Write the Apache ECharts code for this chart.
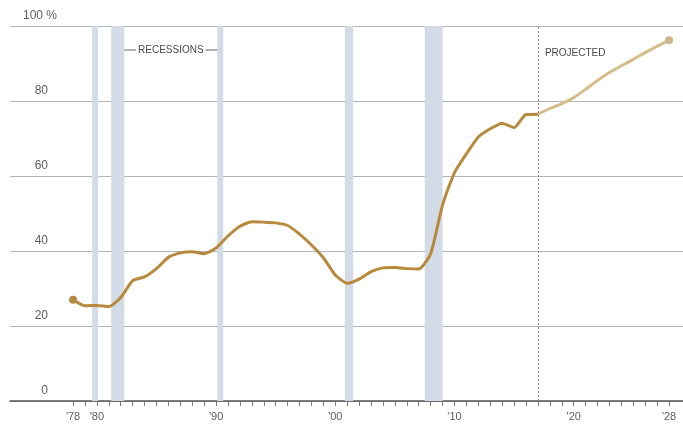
<!DOCTYPE html>
<html>
<head>
<meta charset="utf-8">
<script src="https://cdn.jsdelivr.net/npm/echarts@6/dist/echarts.min.js"></script>
<style>
  html, body { margin: 0; padding: 0; background: #fff; }
  #chart { width: 683px; height: 430px; }
</style>
</head>
<body>
<div id="chart"></div>
<script>
// Federal debt held by the public, percent of GDP (fiscal years)
const actualYears = [1978,1979,1980,1981,1982,1983,1984,1985,1986,1987,1988,1989,1990,1991,1992,1993,1994,1995,1996,1997,1998,1999,2000,2001,2002,2003,2004,2005,2006,2007,2008,2009,2010,2011,2012,2013,2014,2015,2016,2017];
const actualValues = [27.0,25.4,25.5,25.2,27.6,32.1,33.1,35.3,38.3,39.5,39.8,39.3,40.8,44.0,46.6,47.8,47.7,47.5,46.8,44.5,41.6,38.2,33.6,31.4,32.5,34.5,35.5,35.6,35.3,35.2,39.3,52.3,60.9,65.9,70.4,72.6,74.1,72.9,76.4,76.5];
const projectedYears = [2017,2018,2019,2020,2021,2022,2023,2024,2025,2026,2027,2028];
const projectedValues = [76.5,78.0,79.3,80.9,83.1,85.5,87.6,89.4,91.1,92.9,94.6,96.2];

// Recession periods, in the same year units as the data
const recessions = [[1979.6,1980.1],[1981.2,1982.3],[1990.1,1990.6],[2000.8,2001.5],[2007.5,2009.0]];
const projectionStart = 2017;

const xLabelYears = [1978,1980,1990,2000,2010,2020,2028];
const tickYears = [];
for (let y = 1978; y <= 2028; y++) tickYears.push(y);

const font = "'Liberation Sans', Arial, sans-serif";
const chart = echarts.init(document.getElementById('chart'), null, { renderer: 'canvas' });

const option = {
  animation: false,
  grid: { left: 10, right: 0, top: 26, bottom: 29 },
  xAxis: {
    type: 'value',
    min: 1972.71,
    max: 2029.17,
    splitLine: { show: false },
    axisLine: { show: true, lineStyle: { color: '#555', width: 1.5 } },
    axisTick: { show: true, customValues: tickYears, length: 5, lineStyle: { color: '#777', width: 1 } },
    axisLabel: {
      customValues: xLabelYears,
      formatter: v => "'" + String(v).slice(2),
      color: '#5e5e5e', fontSize: 11, fontFamily: font, margin: 10
    }
  },
  yAxis: {
    type: 'value',
    min: 0, max: 100, interval: 20,
    axisLine: { show: false },
    axisTick: { show: false },
    splitLine: { show: true, lineStyle: { color: '#aeb5bc', width: 1 } },
    axisLabel: {
      inside: true,
      margin: 38,
      align: 'right',
      verticalAlign: 'bottom',
      padding: [0, 0, 4, 0],
      color: '#5e5e5e', fontSize: 12, fontFamily: font,
      // the top label carries the unit and is drawn separately
      formatter: v => (v === 100 ? '' : String(v))
    }
  },
  series: [
    {
      name: 'recessions',
      type: 'line',
      data: [],
      silent: true,
      markArea: {
        silent: true,
        itemStyle: { color: '#d3dce6' },
        data: recessions.map(r => [{ xAxis: r[0], yAxis: 0 }, { xAxis: r[1], yAxis: 100 }])
      },
      markLine: {
        silent: true,
        symbol: 'none',
        label: { show: false },
        lineStyle: { color: '#8a8a8a', type: [2, 2], width: 1 },
        data: [[{ coord: [projectionStart, 0] }, { coord: [projectionStart, 100] }]]
      },
      z: 1
    },
    {
      name: 'projected',
      type: 'line',
      data: projectedYears.map((y, i) => [y, projectedValues[i]]),
      smooth: 0.2,
      showSymbol: true,
      symbol: 'circle',
      symbolSize: (v, p) => (p.dataIndex === projectedYears.length - 1 ? 8 : 0),
      itemStyle: { color: '#cbb88e' },
      lineStyle: { color: '#d6bc86', width: 3 },
      z: 3
    },
    {
      name: 'actual',
      type: 'line',
      data: actualYears.map((y, i) => [y, actualValues[i]]),
      smooth: 0.2,
      showSymbol: true,
      symbol: 'circle',
      symbolSize: (v, p) => (p.dataIndex === 0 ? 8 : 0),
      itemStyle: { color: '#b48a45' },
      lineStyle: { color: '#b8893c', width: 3 },
      z: 4
    }
  ]
};

chart.setOption(option);

// Annotations placed from axis coordinates
const px = (x, y) => chart.convertToPixel({ gridIndex: 0 }, [x, y]);
const recLeft = px(recessions[1][1], 100)[0];
const recRight = px(recessions[2][0], 100)[0];
const labelY = 50;
const projX = px(projectionStart, 100)[0];
const topY = px(1978, 100)[1];

chart.setOption({
  graphic: [
    {
      type: 'text',
      x: 23, y: topY - 4,
      style: { text: '100 %', fill: '#5e5e5e', font: '12px ' + font, verticalAlign: 'bottom' }
    },
    {
      type: 'line',
      shape: { x1: recLeft, y1: labelY, x2: recRight, y2: labelY },
      style: { stroke: '#666', lineWidth: 1 },
      z: 10
    },
    {
      type: 'text',
      x: (recLeft + recRight) / 2, y: labelY,
      style: {
        text: 'RECESSIONS', fill: '#4a4a4a', font: '10px ' + font,
        align: 'center', verticalAlign: 'middle',
        backgroundColor: '#fff', padding: [1, 2]
      },
      z: 11
    },
    {
      type: 'text',
      x: projX + 7, y: 53,
      style: { text: 'PROJECTED', fill: '#4a4a4a', font: '10px ' + font, align: 'left', verticalAlign: 'middle' },
      z: 11
    }
  ]
});
</script>
</body>
</html>
